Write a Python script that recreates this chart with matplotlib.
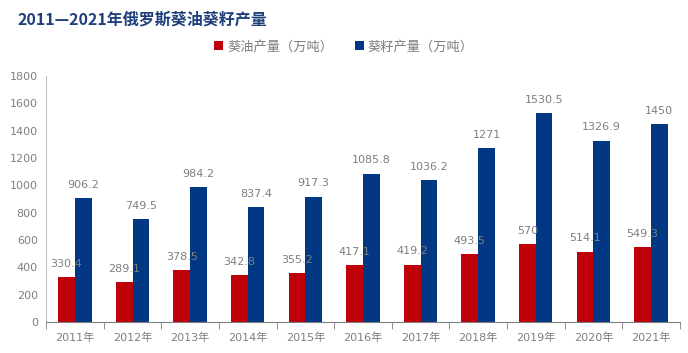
import matplotlib.pyplot as plt
import numpy as np

plt.rcParams['font.family'] = ['DejaVu Sans', 'Noto Sans CJK SC']

years = ["2011年", "2012年", "2013年", "2014年", "2015年", "2016年",
         "2017年", "2018年", "2019年", "2020年", "2021年"]
oil = [330.4, 289.1, 378.5, 342.8, 355.2, 417.1, 419.2, 493.5, 570, 514.1, 549.3]
seed = [906.2, 749.5, 984.2, 837.4, 917.3, 1085.8, 1036.2, 1271, 1530.5, 1326.9, 1450]
oil_labels = ["330.4", "289.1", "378.5", "342.8", "355.2", "417.1", "419.2", "493.5", "570", "514.1", "549.3"]
seed_labels = ["906.2", "749.5", "984.2", "837.4", "917.3", "1085.8", "1036.2", "1271", "1530.5", "1326.9", "1450"]

red = "#BE0009"
blue = "#023883"
grey = "#7F7F7F"

fig = plt.figure(figsize=(6.88, 3.53), dpi=100)
ax = fig.add_axes([0.067, 0.088, 0.921, 0.697])

x = np.arange(len(years))
w = 0.29
ax.bar(x - w / 2, oil, w, color=red, label="葵油产量（万吨）")
ax.bar(x + w / 2, seed, w, color=blue, label="葵籽产量（万吨）")

for i in range(len(years)):
    ax.text(x[i] - w / 2, oil[i] + 60, oil_labels[i], ha="center", va="bottom",
            fontsize=8, color=grey)
    ax.text(x[i] + w / 2, seed[i] + 60, seed_labels[i], ha="center", va="bottom",
            fontsize=8, color=grey)

ax.set_xlim(-0.5, len(years) - 0.5)
ax.set_ylim(0, 1800)
ax.set_yticks(np.arange(0, 1801, 200))
ax.set_xticks(x)
ax.set_xticklabels(years)
ax.set_xticks(np.arange(-0.5, len(years), 1), minor=True)
ax.tick_params(axis="x", which="major", length=0, labelsize=8, labelcolor=grey, pad=8)
ax.tick_params(axis="x", which="minor", length=5, color=grey)
ax.tick_params(axis="y", length=0, labelsize=8, labelcolor=grey, pad=6)

for s in ["top", "right"]:
    ax.spines[s].set_visible(False)
ax.spines["left"].set_color("#BFBFBF")
ax.spines["bottom"].set_color(grey)

fig.text(0.026, 0.945, "2011—2021年俄罗斯葵油葵籽产量", fontsize=11.5, fontweight="bold",
         color="#1F3F7A", va="center", family=["Noto Sans CJK SC", "DejaVu Sans"])

fig.legend(loc="center", bbox_to_anchor=(0.5, 0.867), ncol=2, frameon=False,
           handlelength=0.7, handleheight=0.7, handletextpad=0.3,
           columnspacing=1.6, labelcolor=grey,
           prop={"family": ["Noto Sans CJK SC", "DejaVu Sans"], "size": 9.5})

fig.savefig("out.png", dpi=100)
